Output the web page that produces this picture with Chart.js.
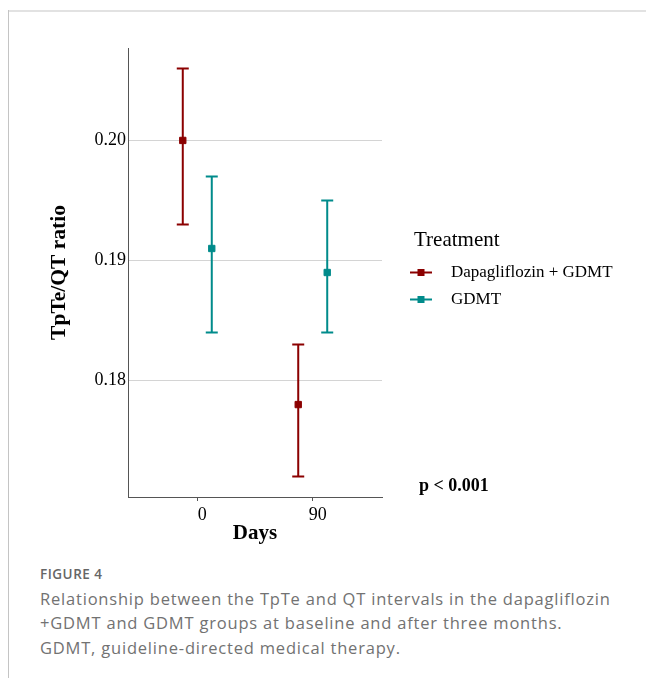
<!DOCTYPE html>
<html>
<head>
<meta charset="utf-8">
<script src="https://cdn.jsdelivr.net/npm/chart.js@4.4.1/dist/chart.umd.min.js"></script>
<style>
  html, body { margin: 0; padding: 0; background: #fff; }
  body { width: 646px; height: 678px; position: relative; overflow: hidden; }
  #frameTop { position: absolute; left: 9px; top: 10px; width: 637px; height: 2px; background: #e2e2e2; }
  #frameLeft { position: absolute; left: 8px; top: 10px; width: 1px; height: 668px; background: #c4c4c4; }
  #wrap { position: absolute; left: 0; top: 0; width: 646px; height: 560px; }
  #figLabel { position: absolute; left: 40px; top: 565px; font: 600 13.5px "Open Sans", sans-serif; letter-spacing: 0.5px; color: #666; white-space: nowrap; }
  #caption { position: absolute; left: 40px; top: 587px; font: 16.5px/24.4px "Open Sans", sans-serif; letter-spacing: 0.8px; color: #727272; white-space: nowrap; }
</style>
</head>
<body>
<div id="frameTop"></div>
<div id="frameLeft"></div>
<div id="wrap"><canvas id="chart" width="646" height="560"></canvas></div>
<div id="figLabel">FIGURE 4</div>
<div id="caption">Relationship between the TpTe and QT intervals in the dapagliflozin<br>+GDMT and GDMT groups at baseline and after three months.<br>GDMT, guideline-directed medical therapy.</div>
<script>
// data
const days = [0, 90];
const dodge = 11.3; // position_dodge offset, in days
const groups = ["Dapagliflozin + GDMT", "GDMT"];
const colors = ["#8b0000", "#008b8b"];
const dapaMean = [0.200, 0.178];
const dapaLow  = [0.193, 0.172];
const dapaHigh = [0.206, 0.183];
const gdmtMean = [0.191, 0.189];
const gdmtLow  = [0.184, 0.184];
const gdmtHigh = [0.197, 0.195];
const yTicks = [0.18, 0.19, 0.20];
const xTicks = [0, 90];

const serif = "'Liberation Serif', 'Times New Roman', serif";

function points(mean, shift) {
    return days.map((d, i) => ({ x: d + shift, y: mean[i] }));
}

// draws the vertical error bars before the square markers
const errorBars = {
    id: "errorBars",
    beforeDatasetsDraw(chart) {
        let ctx = chart.ctx;
        let yScale = chart.scales.y;
        chart.data.datasets.forEach((ds, i) => {
            let meta = chart.getDatasetMeta(i);
            ctx.save();
            ctx.strokeStyle = ds.borderColor;
            ctx.lineWidth = 2;
            meta.data.forEach((pt, j) => {
                let yl = yScale.getPixelForValue(ds.low[j]);
                let yh = yScale.getPixelForValue(ds.high[j]);
                ctx.beginPath();
                ctx.moveTo(pt.x, yl); ctx.lineTo(pt.x, yh);
                ctx.moveTo(pt.x - 6, yl); ctx.lineTo(pt.x + 6, yl);
                ctx.moveTo(pt.x - 6, yh); ctx.lineTo(pt.x + 6, yh);
                ctx.stroke();
            });
            ctx.restore();
        });
    }
};

// legend at the right, plus the p value
const sideText = {
    id: "sideText",
    afterDraw(chart) {
        let ctx = chart.ctx;
        ctx.save();
        ctx.fillStyle = "#000";
        ctx.textBaseline = "middle";
        ctx.textAlign = "left";
        ctx.font = "21px " + serif;
        ctx.fillText("Treatment", 414, 240);
        ctx.font = "17px " + serif;
        chart.data.datasets.forEach((ds, i) => {
            let y = 272.5 + i * 27;
            ctx.strokeStyle = ds.borderColor;
            ctx.lineWidth = 2;
            ctx.beginPath();
            ctx.moveTo(410, y); ctx.lineTo(432, y);
            ctx.stroke();
            ctx.fillStyle = ds.borderColor;
            ctx.fillRect(417.5, y - 3.5, 7, 7);
            ctx.fillStyle = "#000";
            ctx.fillText(ds.label, 451, y);
        });
        ctx.font = "bold 18px " + serif;
        ctx.fillText("p < 0.001", 419, 486);
        ctx.restore();
    }
};

new Chart(document.getElementById("chart").getContext("2d"), {
    type: "scatter",
    data: {
        datasets: [
            {
                label: groups[0],
                data: points(dapaMean, -dodge),
                low: dapaLow, high: dapaHigh,
                borderColor: colors[0],
                backgroundColor: colors[0],
                pointStyle: "rect",
                pointRadius: 4.5,
                borderWidth: 1
            },
            {
                label: groups[1],
                data: points(gdmtMean, dodge),
                low: gdmtLow, high: gdmtHigh,
                borderColor: colors[1],
                backgroundColor: colors[1],
                pointStyle: "rect",
                pointRadius: 4.5,
                borderWidth: 1
            }
        ]
    },
    options: {
        responsive: false,
        animation: false,
        events: [],
        layout: { padding: { top: 48, right: 264, left: 0, bottom: 0 } },
        plugins: { legend: { display: false }, tooltip: { enabled: false } },
        scales: {
            x: {
                type: "linear",
                min: -54, max: 144,
                afterBuildTicks: s => { s.ticks = xTicks.map(v => ({ value: v })); },
                afterFit: s => { s.height = 63; },
                grid: { drawOnChartArea: false, drawTicks: true, tickLength: 4, color: "#555" },
                border: { display: true, color: "#555", width: 1 },
                ticks: { color: "#000", padding: 3, labelOffset: 5, font: { family: serif, size: 18 } },
                title: { display: true, text: "Days", color: "#000", padding: { top: 0, bottom: 14 },
                         font: { family: serif, size: 21, weight: "bold" } }
            },
            y: {
                min: 0.1703, max: 0.2077,
                afterBuildTicks: s => { s.ticks = yTicks.map(v => ({ value: v })); },
                afterFit: s => { s.width = 128; },
                grid: { color: "#d4d4d4", drawTicks: false },
                border: { display: true, color: "#555", width: 1 },
                ticks: { color: "#000", padding: 2, font: { family: serif, size: 18 },
                         callback: v => v.toFixed(2) },
                title: { display: true, text: "TpTe/QT ratio", color: "#000", padding: { top: 47, bottom: 0 },
                         font: { family: serif, size: 21.5, weight: "bold" } }
            }
        }
    },
    plugins: [errorBars, sideText]
});
</script>
</body>
</html>
